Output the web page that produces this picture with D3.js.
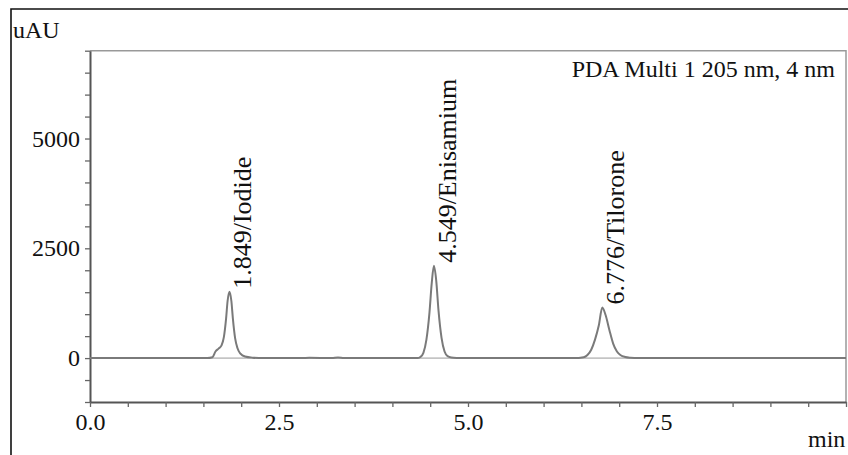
<!DOCTYPE html>
<html>
<head>
<meta charset="utf-8">
<script src="https://cdn.jsdelivr.net/npm/d3@7"></script>
<style>
	body { margin: 0; background: #fff; }
	svg { display: block; font-family: "Liberation Serif", "DejaVu Serif", serif; }
</style>
</head>
<body>
<svg id="chart" width="848" height="455"></svg>
<script>
'use strict';

// chromatogram trace (min, uAU)
var times = [
	0.00, 1.00, 1.55, 1.62, 1.66, 1.70, 1.74, 1.77, 1.80, 1.82, 1.845, 1.87, 1.89, 1.92, 1.95, 1.99, 2.05, 2.15, 2.30,
	2.80, 2.90, 3.20, 3.28, 3.36, 3.60, 4.20,
	4.33, 4.37, 4.41, 4.45, 4.49, 4.52, 4.549, 4.58, 4.61, 4.65, 4.69, 4.73, 4.78, 4.85, 4.95,
	6.40, 6.53, 6.58, 6.63, 6.68, 6.73, 6.776, 6.82, 6.87, 6.92, 6.97, 7.02, 7.08, 7.15, 7.25,
	8.00, 10.00
];
var signal = [
	0, 0, 0, 20, 150, 215, 290, 470, 900, 1300, 1510, 1300, 900, 450, 230, 100, 35, 10, 0,
	0, 6, 0, 15, 0, 0, 0,
	0, 25, 120, 420, 1030, 1700, 2100, 1760, 1080, 460, 150, 45, 15, 4, 0,
	0, 20, 70, 190, 420, 740, 1150, 980, 640, 330, 150, 65, 25, 8, 0,
	0, 0
];

var peakTimes   = [1.845, 4.549, 6.776];
var peakHeights = [1510, 2100, 1150];
var peakLabels  = ['1.849/Iodide', '4.549/Enisamium', '6.776/Tilorone'];

var xTicks      = d3.range(0, 10.001, 0.5);
var xLabelTicks = [0, 2.5, 5, 7.5];
var yTicks      = d3.range(-1000, 7001, 500);
var yLabelTicks = [0, 2500, 5000];

var svg = d3.select('#chart');

var x = d3.scaleLinear().domain([0, 10]).range([90, 846]);
var y = d3.scaleLinear().domain([-1000, 7000]).range([402, 50.7]);

// outer frame
svg.append('path')
	.attr('d', 'M11,455V9H848')
	.attr('fill', 'none')
	.attr('stroke', '#111')
	.attr('stroke-width', 1.6);

// top and right edges of the plot box
svg.append('path')
	.attr('d', 'M' + x(0) + ',' + y(7000) + 'H' + x(10) + 'V' + y(-1000))
	.attr('fill', 'none')
	.attr('stroke', '#999')
	.attr('stroke-width', 1.5);

// zero line
svg.append('line')
	.attr('x1', x(0)).attr('x2', x(10))
	.attr('y1', y(0)).attr('y2', y(0))
	.attr('stroke', '#9a9a9a')
	.attr('stroke-width', 1);

var yAxis = svg.append('g')
	.attr('transform', 'translate(' + x(0) + ',0)')
	.call(d3.axisLeft(y)
		.tickValues(yTicks)
		.tickSize(5)
		.tickSizeOuter(0)
		.tickPadding(5)
		.tickFormat(function (d) { return yLabelTicks.indexOf(d) >= 0 ? d : ''; }));

var xAxis = svg.append('g')
	.attr('transform', 'translate(0,' + y(-1000) + ')')
	.call(d3.axisBottom(x)
		.tickValues(xTicks)
		.tickSize(5)
		.tickSizeOuter(0)
		.tickPadding(6)
		.tickFormat(function (d) { return xLabelTicks.indexOf(d) >= 0 ? d3.format('.1f')(d) : ''; }));

[xAxis, yAxis].forEach(function (g) {
	g.select('.domain').attr('stroke', '#555').attr('stroke-width', 2);
	g.selectAll('.tick line').attr('stroke', '#666').attr('stroke-width', 1.3);
	g.selectAll('.tick text')
		.attr('font-family', '"Liberation Serif", serif')
		.attr('font-size', 24)
		.attr('fill', '#111');
});

// trace
var line = d3.line()
	.x(function (d, i) { return x(times[i]); })
	.y(function (d) { return y(d); })
	.curve(d3.curveMonotoneX);

svg.append('path')
	.datum(signal)
	.attr('d', line)
	.attr('fill', 'none')
	.attr('stroke', '#7a7a7a')
	.attr('stroke-width', 2)
	.attr('stroke-linejoin', 'round');

// peak labels
svg.selectAll('.peak-label')
	.data(peakLabels)
	.enter().append('text')
	.attr('class', 'peak-label')
	.attr('transform', function (d, i) {
		return 'translate(' + (x(peakTimes[i]) + 22) + ',' + (y(peakHeights[i]) - 3) + ') rotate(-90)';
	})
	.attr('font-size', 26)
	.attr('fill', '#111')
	.text(function (d) { return d; });

svg.append('text')
	.attr('x', 835).attr('y', 77)
	.attr('text-anchor', 'end')
	.attr('font-size', 24)
	.attr('fill', '#111')
	.text('PDA Multi 1 205 nm, 4 nm');

svg.append('text')
	.attr('x', 13).attr('y', 38)
	.attr('font-size', 24)
	.attr('fill', '#111')
	.text('uAU');

svg.append('text')
	.attr('x', 808).attr('y', 447)
	.attr('font-size', 24)
	.attr('fill', '#111')
	.text('min');
</script>
</body>
</html>
